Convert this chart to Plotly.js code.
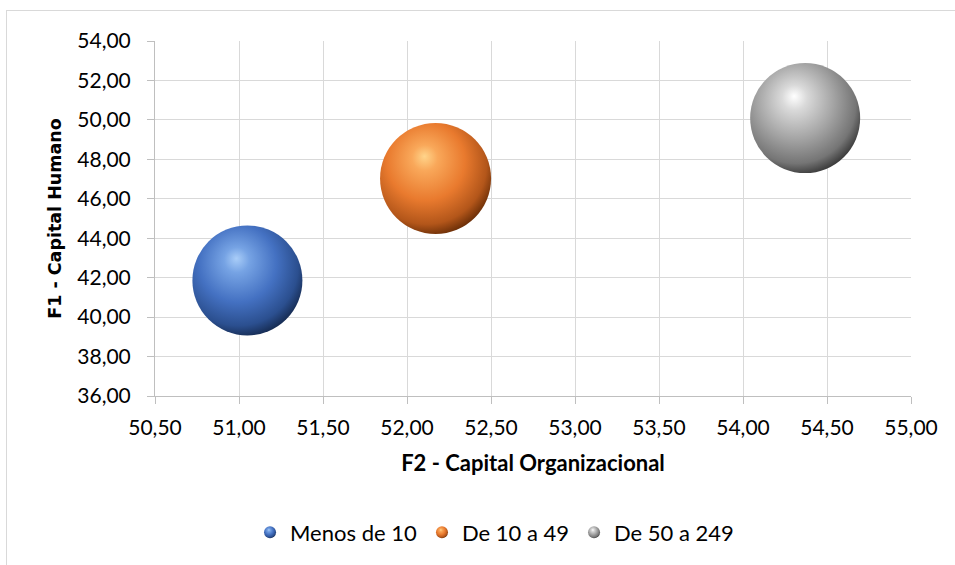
<!DOCTYPE html>
<html>
<head>
<meta charset="utf-8">
<script src="https://cdn.plot.ly/plotly-3.0.1.min.js"></script>
<style>
  html, body { margin: 0; padding: 0; background: #ffffff; }
  #wrap { position: relative; width: 955px; height: 565px; overflow: hidden; }
  #chart { position: absolute; left: 0; top: 0; width: 955px; height: 565px; }
  #frame { position: absolute; left: 6px; top: 10px; width: 970px; height: 580px;
           border: 1px solid #d9d9d9; pointer-events: none; }
</style>
</head>
<body>
<div id="wrap">
  <div id="chart"></div>
  <div id="frame"></div>
</div>
<script>
// ---- data ----
const seriesNames = ["Menos de 10", "De 10 a 49", "De 50 a 249"];
const xValues = [51.05, 52.17, 54.37];      // F2 - Capital Organizacional
const yValues = [41.86, 47.03, 50.09];      // F1 - Capital Humano
const bubbleSize = [110, 111, 110];
const xTicks = [50.5, 51, 51.5, 52, 52.5, 53, 53.5, 54, 54.5, 55];
const yTicks = [36, 38, 40, 42, 44, 46, 48, 50, 52, 54];

// ---- styles ----
const baseColors = ["#4472c4", "#ed7d31", "#a5a5a5"];
const sphereStops = [
  [["0", "#a9cdf8"], ["0.18", "#76a3e4"], ["0.55", "#4471c2"], ["0.85", "#2b4f8f"], ["1", "#172d55"]],
  [["0", "#ffd48a"], ["0.18", "#f9a85a"], ["0.55", "#e97a2e"], ["0.85", "#b3561a"], ["1", "#6e3008"]],
  [["0", "#ffffff"], ["0.18", "#d9d9d9"], ["0.55", "#a3a3a3"], ["0.85", "#757575"], ["1", "#3c3c3c"]]
];

const FONT = "Lato, 'Open Sans', sans-serif";

const traces = seriesNames.map((name, i) => ({
  type: "scatter",
  mode: "markers",
  name: name,
  x: [xValues[i]],
  y: [yValues[i]],
  marker: {
    size: [bubbleSize[i]],
    sizemode: "diameter",
    sizeref: 1,
    color: baseColors[i],
    opacity: 1,
    line: { width: 0 }
  },
  hoverinfo: "x+y+name"
}));

const layout = {
  width: 955,
  height: 565,
  separators: ",.",
  paper_bgcolor: "rgba(0,0,0,0)",
  plot_bgcolor: "#ffffff",
  margin: { l: 155, r: 44, t: 41, b: 169 },
  font: { family: FONT, size: 21, color: "#000000" },
  showlegend: true,
  legend: {
    orientation: "h",
    x: 0.1257, xanchor: "left",
    y: -0.3845, yanchor: "middle",
    itemsizing: "constant",
    itemwidth: 30,
    font: { family: FONT, size: 22, color: "#000000" },
    bgcolor: "rgba(0,0,0,0)"
  },
  xaxis: {
    range: [50.5, 55],
    tickmode: "array",
    tickvals: xTicks,
    tickformat: ".2f",
    ticks: "outside",
    ticklen: 7,
    tickcolor: "#bfbfbf",
    showline: true,
    linecolor: "#bfbfbf",
    linewidth: 1,
    showgrid: true,
    gridcolor: "#d9d9d9",
    gridwidth: 1,
    zeroline: false,
    ticklabelstandoff: 6,
    tickfont: { family: FONT, size: 21, color: "#000000" },
    title: {
      text: "F2 - Capital Organizacional",
      font: { family: FONT, size: 22, color: "#000000", weight: "bold" },
      standoff: 17
    }
  },
  yaxis: {
    range: [36, 54],
    tickmode: "array",
    tickvals: yTicks,
    tickformat: ".2f",
    ticks: "outside",
    ticklen: 7,
    tickcolor: "#bfbfbf",
    showline: true,
    linecolor: "#bfbfbf",
    linewidth: 1,
    showgrid: true,
    gridcolor: "#d9d9d9",
    gridwidth: 1,
    zeroline: false,
    ticklabelstandoff: 12,
    tickfont: { family: FONT, size: 21, color: "#000000" },
    title: {
      text: "F1 - Capital Humano",
      font: { family: "'DejaVu Sans', Verdana, sans-serif", size: 17.5, color: "#000000", weight: "bold" },
      standoff: 11
    }
  }
};

function applySpheres(gd) {
  const defs = gd.querySelector(".main-svg defs");
  if (!defs) return;
  const NS = "http://www.w3.org/2000/svg";
  sphereStops.forEach((stops, i) => {
    const id = "sphere-grad-" + i;
    let g = document.getElementById(id);
    if (g) g.remove();
    g = document.createElementNS(NS, "radialGradient");
    g.setAttribute("id", id);
    g.setAttribute("cx", "0.42");
    g.setAttribute("cy", "0.38");
    g.setAttribute("r", "0.64");
    g.setAttribute("fx", "0.40");
    g.setAttribute("fy", "0.30");
    stops.forEach(([off, col]) => {
      const s = document.createElementNS(NS, "stop");
      s.setAttribute("offset", off);
      s.setAttribute("stop-color", col);
      g.appendChild(s);
    });
    defs.appendChild(g);
  });
  const traceGroups = gd.querySelectorAll(".scatterlayer .trace");
  traceGroups.forEach((tg, i) => {
    tg.querySelectorAll("path.point").forEach(p => {
      p.style.fill = "url(#sphere-grad-" + (i % sphereStops.length) + ")";
    });
  });
  const legendItems = gd.querySelectorAll(".legend .traces");
  legendItems.forEach((li, i) => {
    li.querySelectorAll(".legendpoints path").forEach(p => {
      p.style.fill = "url(#sphere-grad-" + (i % sphereStops.length) + ")";
    });
  });
}

const gd = document.getElementById("chart");
Plotly.newPlot(gd, traces, layout, { displayModeBar: false, staticPlot: true }).then(() => {
  applySpheres(gd);
  gd.on && gd.on("plotly_afterplot", () => applySpheres(gd));
});
</script>
</body>
</html>
